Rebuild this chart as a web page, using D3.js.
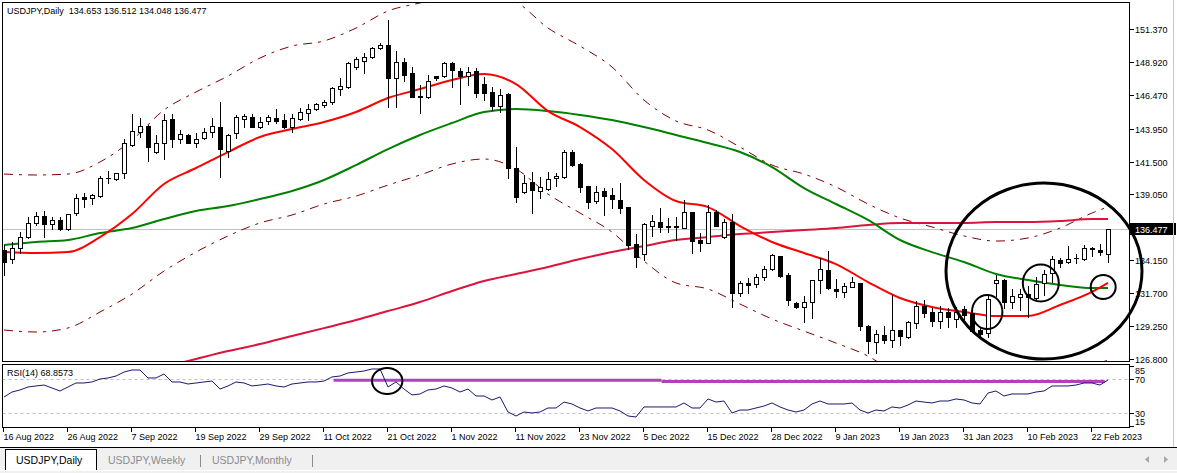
<!DOCTYPE html>
<html><head><meta charset="utf-8">
<script src="https://cdn.jsdelivr.net/npm/d3@7"></script>
<style>
html,body{margin:0;padding:0;background:#fff;overflow:hidden;}
svg{display:block;font-family:"Liberation Sans",Arial,sans-serif;}
</style></head><body>
<svg id="chart" width="1177" height="473"></svg>
<script>
// ---------- DATA ----------
const symbolTitle = "USDJPY,Daily";
const opens = [134.91,134.24,135.06,135.88,136.93,137.44,136.85,137.15,136.47,137.67,
138.86,138.78,138.93,140.27,140.20,140.65,142.73,143.70,144.15,142.21,
142.88,144.67,143.18,143.48,142.88,143.25,143.70,144.07,142.28,143.63,
144.67,144.82,144.07,144.52,144.74,144.59,144.07,144.67,145.11,145.41,
145.71,145.93,146.90,147.05,148.54,148.99,149.28,149.95,150.18,147.72,
148.91,148.09,146.38,146.31,147.87,147.87,148.84,148.24,147.87,148.24,
147.27,146.68,145.64,146.53,141.02,139.23,139.98,139.31,139.46,140.27,
140.35,142.21,141.32,139.68,138.56,139.31,139.01,138.64,138.11,135.36,
134.62,136.70,137.00,136.70,136.70,136.55,137.74,135.66,135.43,137.74,
135.88,137.00,131.71,132.46,132.38,132.91,133.50,134.47,133.05,130.97,
130.67,131.04,132.68,133.42,132.01,131.79,132.16,132.46,129.25,128.06,
128.59,128.21,128.96,128.44,129.48,130.74,130.30,129.63,130.30,129.78,
130.52,130.22,128.96,128.73,132.46,132.68,131.04,131.41,131.64,131.34,
132.46,133.20,134.17,134.02,134.32,134.24,135.06,134.91,134.653];
const highs = [135.29,135.51,136.25,137.37,137.74,137.82,137.37,137.37,137.59,139.08,
139.16,139.08,140.42,140.80,140.65,143.18,145.04,144.74,144.22,143.48,
145.04,145.04,143.85,143.55,143.63,144.00,144.74,145.93,143.55,144.97,
145.04,145.04,144.82,144.97,145.41,145.04,145.04,145.49,145.79,145.86,
146.08,147.05,147.72,148.91,149.28,149.58,150.03,150.33,152.04,149.73,
149.21,148.54,147.20,147.94,147.87,148.91,148.91,148.47,148.54,148.47,
147.80,147.05,146.90,146.60,142.58,140.50,140.72,140.35,140.72,140.65,
142.36,142.36,141.39,139.68,139.68,139.53,139.53,139.90,138.11,136.10,
136.93,137.52,138.04,137.30,137.37,138.64,137.74,136.18,138.26,137.89,
137.22,137.59,132.61,132.83,133.13,133.72,134.62,134.47,133.20,131.04,
131.49,132.68,134.32,134.84,132.75,132.46,132.91,132.46,129.33,128.96,
129.25,131.56,128.96,129.63,131.11,131.19,130.59,130.74,130.59,130.67,
130.74,130.59,129.18,131.56,133.05,132.75,132.01,132.01,132.23,132.91,
133.42,134.47,134.32,135.21,134.62,135.29,135.14,135.36,136.512];
const lows = [133.05,133.95,134.69,135.80,136.78,135.88,136.47,136.40,136.40,137.52,
138.11,138.34,138.86,139.90,140.13,140.27,142.66,143.33,141.54,142.14,
141.69,142.58,142.88,142.88,142.58,143.18,143.33,140.35,141.84,143.25,
144.07,144.07,144.00,144.30,144.37,144.00,143.70,144.59,144.59,145.34,
145.56,145.79,146.45,146.98,148.39,148.09,149.21,149.88,145.56,145.56,
147.50,146.31,145.11,146.23,147.57,147.80,147.05,145.79,147.20,146.31,
146.08,145.34,145.19,140.27,138.49,139.16,137.67,138.78,139.38,139.68,
140.27,141.17,139.23,138.04,138.41,137.52,138.04,137.67,134.99,133.65,
134.17,135.96,136.25,136.25,135.66,136.55,134.69,134.84,135.43,136.70,
135.81,130.67,131.49,131.71,132.16,132.68,133.42,132.91,130.82,130.59,
129.55,129.85,131.71,131.99,131.41,131.41,132.16,128.96,127.24,127.24,
127.99,127.69,127.84,128.36,129.11,129.93,129.25,129.11,129.18,129.18,
129.78,128.81,128.44,128.44,131.49,130.59,130.59,130.45,129.93,131.26,
131.56,132.53,133.65,133.95,133.95,134.17,134.47,134.54,134.048];
const closes = [134.02,135.06,135.88,136.93,137.44,136.85,137.15,136.47,137.59,138.78,
138.71,139.01,140.27,140.24,140.65,142.88,143.77,144.15,142.58,142.88,
144.59,143.18,143.55,142.88,143.18,143.70,144.15,142.43,143.48,144.82,
144.89,144.07,144.44,144.82,144.52,144.07,144.74,145.19,145.41,145.79,
145.93,146.98,147.13,148.84,149.13,149.28,149.95,150.18,147.72,148.91,
147.94,146.31,146.31,147.50,147.72,148.84,148.32,147.87,148.17,146.60,
146.60,145.64,146.45,141.02,138.86,139.90,139.38,139.61,140.20,140.42,
142.21,141.24,139.61,138.49,139.23,138.93,138.71,138.04,135.29,134.39,
136.85,137.07,136.63,136.66,136.63,137.74,135.58,135.43,137.74,136.70,
137.00,131.71,132.46,132.31,132.91,133.50,134.54,132.98,131.19,130.67,
131.04,132.68,133.50,132.08,131.86,132.24,132.53,129.25,128.14,128.66,
128.21,128.96,128.51,129.55,130.74,130.22,129.63,130.30,129.93,130.30,
130.08,128.88,128.66,131.26,132.68,131.04,131.49,131.64,131.41,132.38,
133.13,134.24,133.95,134.24,134.32,135.06,134.99,134.76,136.477];

// indicator lines, read every 4th bar
const lineBars = [0,4,8,12,16,20,24,28,32,36,40,44,48,52,56,60,64,68,72,76,80,84,88,92,96,100,104,108,112,116,120,124,128,132,136,138];
const maRed = [134.76,134.69,134.76,135.88,137.59,139.83,141.02,142.21,143.33,143.92,144.44,145.19,146.23,146.90,147.57,148.02,147.27,145.26,144.07,142.43,140.13,138.56,138.11,136.70,135.51,134.69,133.87,132.53,131.34,130.67,130.30,130.00,130.00,130.82,131.79,132.46];
const maGreen = [135.29,135.51,135.66,136.18,136.55,137.22,137.82,138.19,138.71,139.31,140.13,141.24,142.43,143.48,144.37,145.19,145.41,145.26,144.97,144.59,144.07,143.48,142.88,142.21,141.09,139.53,138.34,137.15,135.66,134.76,134.02,133.13,132.68,132.31,132.08,132.08];
const maCrimson = [null,null,null,null,null,126.20,126.80,127.39,127.91,128.51,129.10,129.70,130.37,131.04,131.86,132.61,133.13,133.65,134.24,134.76,135.21,135.66,135.88,136.10,136.25,136.40,136.55,136.78,136.93,136.93,136.93,137.00,137.00,137.07,137.22,137.22];
const bandUpper = [140.57,140.50,140.57,141.47,143.10,145.34,146.68,147.87,149.21,150.10,150.48,151.44,152.71,153.31,153.83,153.98,153.38,151.44,150.10,148.54,146.08,144.52,143.85,142.58,141.24,140.57,139.61,138.34,137.30,136.63,135.96,135.58,135.81,136.55,137.67,138.12];
const bandLower = [128.96,128.81,129.11,130.30,131.64,133.35,134.76,135.96,136.93,137.52,138.34,138.93,139.75,140.50,141.32,141.69,140.95,139.08,137.67,136.25,134.09,132.46,132.01,130.89,129.78,128.88,127.99,127.02,125.53,124.71,124.64,124.42,124.19,125.09,126.28,126.72];

const rsi = [48.8,54.7,57.1,60.6,61.8,62.9,59.4,55.9,60.6,65.3,
65.3,66.5,70.0,71.2,73.5,78.2,80.6,80.6,71.2,71.2,
75.9,66.5,66.5,64.1,65.3,66.5,67.6,58.2,61.8,66.5,
65.3,61.8,62.9,64.1,61.8,60.6,64.1,65.3,66.5,66.5,
67.6,72.4,73.5,77.1,78.2,79.4,81.8,81.8,60.6,66.5,
58.2,51.2,52.4,57.1,58.2,61.8,59.4,54.7,58.2,50.0,
50.0,45.3,48.8,31.2,26.5,31.2,30.0,31.2,35.9,35.9,
42.9,40.6,35.9,32.4,35.9,35.9,35.9,32.4,26.5,25.3,
37.1,37.1,37.1,37.1,37.1,41.8,35.9,35.9,46.5,42.9,
44.1,30.0,33.5,33.5,35.9,38.2,41.8,37.1,33.5,31.2,
33.5,40.6,44.1,40.6,40.6,40.6,41.8,33.5,30.0,33.5,
32.4,37.1,35.9,39.4,44.1,42.9,41.8,44.1,44.1,46.5,
45.3,41.8,40.6,53.5,55.9,50.0,52.4,52.4,52.4,54.7,
55.9,61.8,61.8,61.8,62.9,65.3,65.3,62.9,68.86];
const rsiLabel = "RSI(14) 68.8573";
const rsiLevels = [70, 30];
const rsiTicks = [85, 70, 30, 15];
// purple trend lines drawn on RSI window: [startBar, endBar, value]
const rsiTrend = [[41.2, 82.2, 68.5], [82.2, 137.6, 67.0]];

const priceTicks = [151.370,148.920,146.470,143.950,141.500,139.050,134.150,131.700,129.250,126.800];
const lastPrice = 136.477;
const dateLabels = ["16 Aug 2022","26 Aug 2022","7 Sep 2022","19 Sep 2022","29 Sep 2022","11 Oct 2022","21 Oct 2022","1 Nov 2022","11 Nov 2022","23 Nov 2022","5 Dec 2022","15 Dec 2022","28 Dec 2022","9 Jan 2023","19 Jan 2023","31 Jan 2023","10 Feb 2023","22 Feb 2023"];
const dateBars = [0,8,16,24,32,40,48,56,64,72,80,88,96,104,112,120,128,136];
const tabs = ["USDJPY,Daily","USDJPY,Weekly","USDJPY,Monthly"];
// annotations: [centerBar, centerPrice, radiusBars, radiusPrice, strokeWidth]
const priceCircles = [[130.0,133.35,12.25,6.55,3],[122.9,130.30,1.9,1.27,2],[129.6,132.46,2.25,1.38,2],[137.4,132.16,1.56,0.89,2]];
const rsiCircles = [[47.9,67.6,1.9,15.3,2]];

// ---------- CHART ----------
const svg = d3.select('#chart');
const P = {l:2.5, r:1129.5, t:2.5, b:361.5};
const R = {t:364.5, b:427.5};
const x = d3.scaleLinear().domain([0,138]).range([4,1108]);
const y = d3.scaleLinear().domain([126.8,151.37]).range([359,29]);
const yr = d3.scaleLinear().domain([30,70]).range([413,379]);
const fmt = d3.format(".3f");

const defs = svg.append('defs');
defs.append('clipPath').attr('id','cm').append('rect').attr('x',P.l).attr('y',P.t).attr('width',P.r-P.l).attr('height',P.b-P.t);
defs.append('clipPath').attr('id','cr').append('rect').attr('x',P.l).attr('y',R.t).attr('width',P.r-P.l).attr('height',R.b-R.t);

svg.append('rect').attr('width',1177).attr('height',473).attr('fill','#fff');

const main = svg.append('g').attr('clip-path','url(#cm)');
// last price line
const yl = Math.round(y(lastPrice))+0.5;
main.append('line').attr('x1',P.l).attr('x2',P.r).attr('y1',yl).attr('y2',yl).attr('stroke','#c0c0c0').attr('stroke-width',1);

const mkLine = (vals) => d3.line().defined(d=>d[1]!=null).x(d=>x(d[0])).y(d=>y(d[1])).curve(d3.curveMonotoneX)(lineBars.map((b,k)=>[b,vals[k]]));
main.append('path').attr('d',mkLine(bandUpper)).attr('fill','none').attr('stroke','#800000').attr('stroke-width',1).attr('stroke-dasharray','9,6,3,6');
main.append('path').attr('d',mkLine(bandLower)).attr('fill','none').attr('stroke','#800000').attr('stroke-width',1).attr('stroke-dasharray','9,6,3,6');
main.append('path').attr('d',mkLine(maCrimson)).attr('fill','none').attr('stroke','#dc143c').attr('stroke-width',2);
main.append('path').attr('d',mkLine(maGreen)).attr('fill','none').attr('stroke','#008000').attr('stroke-width',2);
main.append('path').attr('d',mkLine(maRed)).attr('fill','none').attr('stroke','#ff0000').attr('stroke-width',2);

// candles
const bars = opens.map((o,i)=>({i,o,h:highs[i],l:lows[i],c:closes[i]}));
const cg = main.append('g').attr('shape-rendering','crispEdges');
bars.forEach(d=>{
  const cx = Math.round(x(d.i));
  cg.append('line').attr('x1',cx+0.5).attr('x2',cx+0.5).attr('y1',Math.round(y(d.h))).attr('y2',Math.round(y(d.l))+1).attr('stroke','#000');
  const top = Math.round(y(Math.max(d.o,d.c))), bot = Math.round(y(Math.min(d.o,d.c)));
  if (bot-top < 1) {
    cg.append('line').attr('x1',cx-2).attr('x2',cx+3).attr('y1',top+0.5).attr('y2',top+0.5).attr('stroke','#000');
  } else {
    cg.append('rect').attr('x',cx-1.5).attr('y',top+0.5).attr('width',4).attr('height',bot-top)
      .attr('fill', d.c>=d.o ? '#fff' : '#000').attr('stroke','#000');
  }
});

// frames
const frame = svg.append('g').attr('fill','none').attr('stroke','#000').attr('shape-rendering','crispEdges');
frame.append('rect').attr('x',P.l).attr('y',P.t).attr('width',P.r-P.l).attr('height',P.b-P.t);
frame.append('rect').attr('x',P.l).attr('y',R.t).attr('width',P.r-P.l).attr('height',R.b-R.t);

// price axis
const ax = svg.append('g').attr('font-size','9px').attr('fill','#000');
priceTicks.forEach(v=>{
  const yy = Math.round(y(v))+0.5;
  ax.append('line').attr('x1',P.r).attr('x2',P.r+4).attr('y1',yy).attr('y2',yy).attr('stroke','#000').attr('shape-rendering','crispEdges');
  ax.append('text').attr('x',1135).attr('y',yy+3.5).text(fmt(v));
});
ax.append('rect').attr('x',1130).attr('y',yl-6.5).attr('width',46).attr('height',12).attr('fill','#000');
ax.append('text').attr('x',1135).attr('y',yl+3.5).attr('fill','#fff').text(fmt(lastPrice));

// header
svg.append('text').attr('x',7).attr('y',14).attr('font-size','9px').attr('xml:space','preserve')
  .text(symbolTitle + "  " + [opens[138],highs[138],lows[138],closes[138]].map(fmt).join(" "));

// RSI panel
const rg = svg.append('g').attr('clip-path','url(#cr)');
rsiLevels.forEach(v=>{
  const yy = Math.round(yr(v))+0.5;
  rg.append('line').attr('x1',P.l).attr('x2',P.r).attr('y1',yy).attr('y2',yy).attr('stroke','#c0c0c0').attr('stroke-dasharray','3,3');
});
rsiTrend.forEach(t=>{
  rg.append('line').attr('x1',x(t[0])).attr('x2',x(t[1])).attr('y1',yr(t[2])).attr('y2',yr(t[2])).attr('stroke','#b43fba').attr('stroke-width',3);
});
rg.append('path').attr('d',d3.line().x((d,i)=>x(i)).y(d=>yr(d))(rsi)).attr('fill','none').attr('stroke','#191970').attr('stroke-width',1);
svg.append('text').attr('x',7).attr('y',376).attr('font-size','9px').text(rsiLabel);
rsiTicks.forEach(v=>{
  const yy = Math.round(yr(v))+0.5;
  const ty = Math.max(373.5, Math.min(425, yy+3.5));
  ax.append('line').attr('x1',P.r).attr('x2',P.r+4).attr('y1',yy).attr('y2',yy).attr('stroke','#000').attr('shape-rendering','crispEdges');
  ax.append('text').attr('x',1135).attr('y',ty).text(v);
});

// date axis
dateBars.forEach((b,k)=>{
  const xx = Math.round(x(b))-0.5;
  svg.append('line').attr('x1',xx).attr('x2',xx).attr('y1',R.b).attr('y2',R.b+4).attr('stroke','#000').attr('shape-rendering','crispEdges');
  svg.append('text').attr('x',xx).attr('y',440).attr('font-size','9px').text(dateLabels[k]);
});

// annotations
const ann = svg.append('g').attr('fill','none').attr('stroke','#000');
priceCircles.forEach(c=>{
  ann.append('ellipse').attr('cx',x(c[0])).attr('cy',y(c[1]))
    .attr('rx',x(c[0]+c[2])-x(c[0])).attr('ry',y(c[1]-c[3])-y(c[1])).attr('stroke-width',c[4]);
});
rsiCircles.forEach(c=>{
  ann.append('ellipse').attr('cx',x(c[0])).attr('cy',yr(c[1]))
    .attr('rx',x(c[0]+c[2])-x(c[0])).attr('ry',yr(c[1]-c[3])-yr(c[1])).attr('stroke-width',c[4]);
});

// right edge & tab bar
svg.append('line').attr('x1',1173.5).attr('x2',1173.5).attr('y1',0).attr('y2',448).attr('stroke','#c8c8c8');
svg.append('rect').attr('x',0).attr('y',448).attr('width',1177).attr('height',25).attr('fill','#f0f0f0');
svg.append('line').attr('x1',0).attr('x2',1177).attr('y1',447.5).attr('y2',447.5).attr('stroke','#000');
svg.append('line').attr('x1',0).attr('x2',1177).attr('y1',470.5).attr('y2',470.5).attr('stroke','#ffffff');
svg.append('path').attr('d','M5.5,470 V449.5 H96.5 V470').attr('fill','#fff').attr('stroke','#000').attr('shape-rendering','crispEdges');
const tabX = [16,108,212];
tabs.forEach((t,k)=>{
  svg.append('text').attr('x',tabX[k]).attr('y',464).attr('font-size','10.5px').attr('fill',k===0?'#000':'#8a8a8a').text(t);
});
[200.5,312.5].forEach(xx=>svg.append('line').attr('x1',xx).attr('x2',xx).attr('y1',455).attr('y2',467).attr('stroke','#8a8a8a'));
svg.append('path').attr('d','M1145,459.5 L1149,456 L1149,463 Z').attr('fill','#a8a8a8');
svg.append('path').attr('d','M1168,459.5 L1164,456 L1164,463 Z').attr('fill','#a8a8a8');
</script>
</body></html>
